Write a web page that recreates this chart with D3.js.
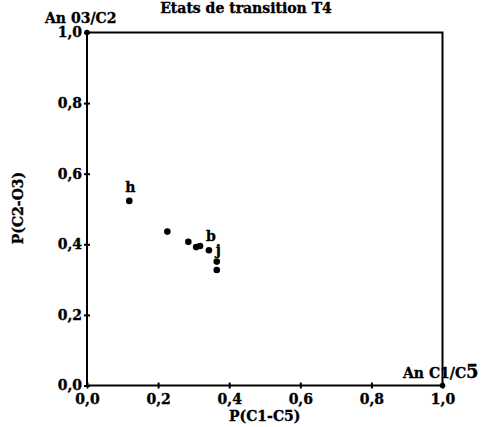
<!DOCTYPE html>
<html><head><meta charset="utf-8">
<script src="https://cdn.jsdelivr.net/npm/d3@7"></script>
<style>
html,body{margin:0;padding:0;background:#fff;}
svg text{font-family:"DejaVu Serif",serif;font-weight:bold;fill:#000;stroke:#000;stroke-width:0.35px;}
</style></head>
<body>
<script>
const title = "Etats de transition T4";
const xLabel = "P(C1-C5)";
const yLabel = "P(C2-O3)";
const xValues = [0.119, 0.226, 0.285, 0.307, 0.318, 0.343, 0.365, 0.365];
const yValues = [0.523, 0.436, 0.407, 0.392, 0.395, 0.383, 0.351, 0.327];
const pointLabels = ["h", "", "", "", "", "b", "j", ""];
const tickValues = [0, 0.2, 0.4, 0.6, 0.8, 1.0];
const anchorX = [0, 1];
const anchorY = [1, 0];

const W = 490, H = 427;
const svg = d3.select("body").append("svg").attr("width", W).attr("height", H);
const x = d3.scaleLinear().domain([0, 1]).range([87, 442.5]);
const y = d3.scaleLinear().domain([0, 1]).range([385.5, 32.5]);
const fmt = v => d3.format(".1f")(v).replace(".", ",");

// frame
svg.append("rect").attr("x", x(0)).attr("y", y(1))
  .attr("width", x(1) - x(0)).attr("height", y(0) - y(1))
  .attr("fill", "none").attr("stroke", "#000").attr("stroke-width", 2);

// bottom axis
const xAxis = d3.axisBottom(x).tickValues(tickValues).tickFormat(fmt).tickSizeInner(3).tickSizeOuter(0).tickPadding(4);
const gx = svg.append("g").attr("transform", `translate(0,${y(0)})`).call(xAxis);
gx.select(".domain").remove();
gx.selectAll(".tick line").attr("y1", -3).attr("y2", 3).attr("stroke", "#000").attr("stroke-width", 2);
gx.selectAll(".tick text").attr("font-size", 14).attr("font-family", "DejaVu Serif").attr("font-weight", "bold").attr("y", 9);

// left axis
const yAxis = d3.axisLeft(y).tickValues(tickValues).tickFormat(fmt).tickSizeInner(3).tickSizeOuter(0).tickPadding(4);
const gy = svg.append("g").attr("transform", `translate(${x(0)},0)`).call(yAxis);
gy.select(".domain").remove();
gy.selectAll(".tick line").attr("x1", -3).attr("x2", 3).attr("stroke", "#000").attr("stroke-width", 2);
gy.selectAll(".tick text").attr("font-size", 14).attr("font-family", "DejaVu Serif").attr("font-weight", "bold").attr("x", -5);

// title
svg.append("text").attr("x", 246).attr("y", 13).attr("text-anchor", "middle").attr("font-size", 14).text(title);

// axis labels
svg.append("text").attr("x", (x(0) + x(1)) / 2).attr("y", 421).attr("text-anchor", "middle").attr("font-size", 14).text(xLabel);
svg.append("text").attr("transform", "translate(23,208) rotate(-90)").attr("text-anchor", "middle").attr("font-size", 14).text(yLabel);

// corner labels
svg.append("text").attr("x", 45).attr("y", 23).attr("font-size", 14).text("An 03/C2");
const cl = svg.append("text").attr("x", 403).attr("y", 378).attr("font-size", 14);
cl.append("tspan").text("An C1/C");
cl.append("tspan").attr("font-size", 18).text("5");

// anchor markers
svg.selectAll("circle.anchor").data(anchorX).enter().append("circle")
  .attr("class", "anchor").attr("cx", (d, i) => x(d)).attr("cy", (d, i) => y(anchorY[i])).attr("r", 2.8).attr("fill", "#000");

// points
svg.selectAll("circle.pt").data(xValues).enter().append("circle")
  .attr("class", "pt").attr("cx", d => x(d)).attr("cy", (d, i) => y(yValues[i])).attr("r", 3.3).attr("fill", "#000");

// point labels
const labOff = { h: [-4, -9], b: [-3, -9], j: [-1, -7] };
svg.selectAll("text.pl").data(pointLabels.map((l, i) => ({ l, i })).filter(d => d.l)).enter().append("text")
  .attr("class", "pl").attr("font-size", 14)
  .attr("x", d => x(xValues[d.i]) + labOff[d.l][0])
  .attr("y", d => y(yValues[d.i]) + labOff[d.l][1])
  .text(d => d.l);
</script>
</body></html>
